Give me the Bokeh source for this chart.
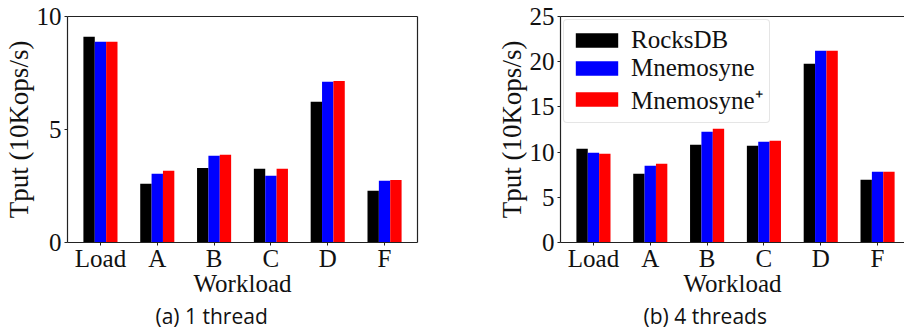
from bokeh.plotting import figure
from bokeh.models import (Range1d, FixedTicker, LinearAxis, Legend, LegendItem,
                          Title, ColumnDataSource)
from bokeh.transform import dodge
from bokeh.layouts import row
from bokeh.embed import file_html
from bokeh.resources import INLINE

workloads = ["Load", "A", "B", "C", "D", "F"]
series_names = ["RocksDB", "Mnemosyne", "Mnemosyne\u207a"]
series_colors = ["#000000", "#0000ff", "#ff0000"]

t1_rocksdb = [9.10, 2.60, 3.30, 3.26, 6.23, 2.29]
t1_mnemosyne = [8.88, 3.04, 3.84, 2.95, 7.11, 2.73]
t1_mnemosyne_plus = [8.88, 3.17, 3.88, 3.26, 7.15, 2.77]

t4_rocksdb = [10.37, 7.60, 10.81, 10.70, 19.77, 6.94]
t4_mnemosyne = [9.92, 8.48, 12.25, 11.14, 21.20, 7.82]
t4_mnemosyne_plus = [9.81, 8.71, 12.58, 11.25, 21.20, 7.82]

y_ticks_1 = [0, 5, 10]
y_ticks_4 = [0, 5, 10, 15, 20, 25]

y_label = "Tput (10Kops/s)"
x_label = "Workload"
caption_1 = "(a) 1 thread"
caption_4 = "(b) 4 threads"

SERIF = "Liberation Serif"
LINE = "#222222"
HEIGHT = 333


def border_axis(p, side):
    ax = LinearAxis(ticker=FixedTicker(ticks=[]))
    ax.axis_line_color = LINE
    ax.axis_line_width = 1.2
    ax.major_tick_line_color = None
    ax.minor_tick_line_color = None
    ax.major_tick_out = 0
    ax.major_tick_in = 0
    ax.major_label_text_font_size = "0px"
    ax.major_label_standoff = 0
    p.add_layout(ax, side)


def make_chart(series, yticks, ymax, xend, width, mb_left, mb_right,
               caption, caption_offset, with_legend, right_border):
    p = figure(width=width, height=HEIGHT, output_backend="svg", toolbar_location=None,
               x_range=Range1d(-0.58, xend), y_range=Range1d(0, ymax),
               min_border_left=mb_left, min_border_right=mb_right,
               min_border_top=16, min_border_bottom=HEIGHT - 242)
    p.outline_line_color = None
    p.grid.visible = False
    p.background_fill_color = "white"
    p.border_fill_color = "white"

    src = ColumnDataSource(dict(x=list(range(len(workloads)))))
    offsets = [-0.2, 0.0, 0.2]
    renderers = []
    for name, vals, col, off in zip(series_names, series, series_colors, offsets):
        src.data[name] = vals
        r = p.vbar(x=dodge("x", off, range=p.x_range), top=name, width=0.2,
                   bottom=0, source=src, fill_color=col, line_color=None)
        renderers.append(r)

    for ax in (p.xaxis[0], p.yaxis[0]):
        ax.axis_line_color = LINE
        ax.axis_line_width = 1.2
        ax.major_tick_line_color = LINE
        ax.major_tick_out = 3
        ax.major_tick_in = 0
        ax.minor_tick_line_color = None
        ax.major_label_text_font = SERIF
        ax.major_label_text_font_size = "25px"
        ax.major_label_text_color = "#111111"
        ax.axis_label_text_font = SERIF
        ax.axis_label_text_font_style = "normal"
        ax.axis_label_text_color = "#111111"

    p.xaxis.ticker = FixedTicker(ticks=list(range(len(workloads))))
    p.xaxis.major_label_overrides = {i: w for i, w in enumerate(workloads)}
    p.xaxis.major_label_standoff = -1
    p.xaxis.axis_label = x_label
    p.xaxis.axis_label_text_font_size = "25px"
    p.xaxis.axis_label_standoff = -5

    p.yaxis.ticker = FixedTicker(ticks=yticks)
    p.yaxis.major_label_standoff = 3
    p.yaxis.axis_label = y_label
    p.yaxis.axis_label_text_font_size = "27px"
    p.yaxis.axis_label_standoff = 0

    border_axis(p, "above")
    if right_border:
        border_axis(p, "right")

    if with_legend:
        items = [LegendItem(label=n, renderers=[r]) for n, r in zip(series_names, renderers)]
        leg = Legend(items=items, location="top_left")
        leg.label_text_font = SERIF
        leg.label_text_font_size = "25px"
        leg.label_text_color = "#111111"
        leg.glyph_width = 53
        leg.glyph_height = 18
        leg.label_height = 18
        leg.label_standoff = 8
        leg.spacing = -3
        leg.padding = 6
        leg.margin = 3
        leg.border_line_color = "#cccccc"
        leg.border_line_width = 1
        leg.background_fill_alpha = 0.8
        if "border_radius" in Legend.properties():
            leg.border_radius = 4
        p.add_layout(leg)

    cap = Title(text=caption, align="left", offset=caption_offset,
                text_font="Open Sans", text_font_size="21px",
                text_font_style="normal", text_color="#111111", standoff=0)
    p.add_layout(cap, "below")
    return p


p1 = make_chart([t1_rocksdb, t1_mnemosyne, t1_mnemosyne_plus], y_ticks_1, 10, 5.58,
                450, 67, 33, caption_1, 88, False, True)
p2 = make_chart([t4_rocksdb, t4_mnemosyne, t4_mnemosyne_plus], y_ticks_4, 25, 5.474,
                454, 110, 0, caption_4, 83, True, False)

layout = row(p1, p2)
open("out.html", "w").write(file_html(layout, INLINE))
